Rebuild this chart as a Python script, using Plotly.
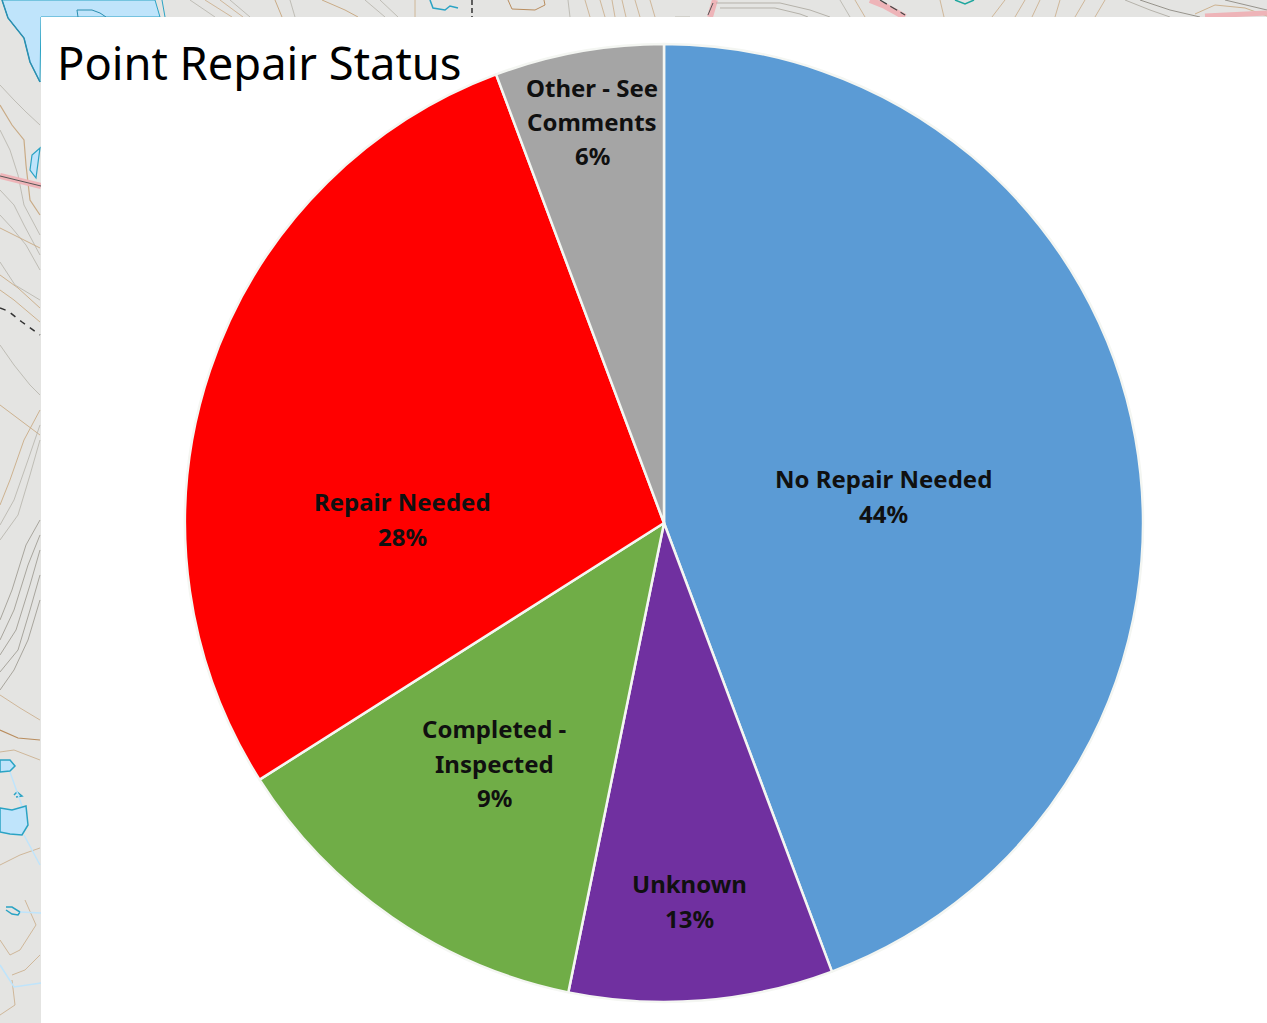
import plotly.graph_objects as go

W, H = 1267, 1023

# ---- data ----
categories = ["No Repair Needed", "Unknown", "Completed - Inspected", "Repair Needed", "Other - See Comments"]
slice_values = [44.3, 8.9, 12.8, 28.3, 5.7]
label_lines = [["No Repair Needed"], ["Unknown"], ["Completed -", "Inspected"], ["Repair Needed"], ["Other - See", "Comments"]]
percent_labels = ["44%", "13%", "9%", "28%", "6%"]
slice_colors = ["#5B9BD5", "#7030A0", "#70AD47", "#FF0000", "#A5A5A5"]
title_text = "Point Repair Status"

# ---- layout constants (pixels in the page) ----
CX, CY, R = 664, 523, 479
label_centres = [(884, 496), (689, 901), (494, 763), (402, 519), (592, 121.5)]
LINE_STEP = 34.5


def px(x):
    return x / W


def py(y):
    return 1 - y / H


def path(points, close=False):
    d = "M " + " L ".join(f"{px(x):.5f},{py(y):.5f}" for x, y in points)
    return d + (" Z" if close else "")


def line(points, color, width=1, dash="solid", fill=None):
    s = dict(type="path", xref="paper", yref="paper", layer="below",
             path=path(points, close=fill is not None),
             line=dict(color=color, width=width, dash=dash))
    if fill:
        s["fillcolor"] = fill
    return s


BROWN = "#c9ab86"
GREY = "#b5b2aa"
TEAL = "#2aa3c4"
LAKE = "#bfe4fb"
ROAD = "#eeb4b8"

shapes = [
    # map base
    dict(type="rect", xref="paper", yref="paper", x0=0, x1=1, y0=0, y1=1, layer="below",
         fillcolor="#e4e4e2", line_width=0),
    # lake top-left
    line([(2, 0), (8, 18), (24, 38), (30, 62), (40, 82), (41, 17), (160, 17), (155, 0)], TEAL, 1, fill=LAKE),
    line([(2, 0), (8, 18), (24, 38), (30, 62), (40, 82)], "#2b8fb0", 1.5),
    line([(78, 17), (77, 10), (92, 10), (100, 13), (106, 17)], "#2b8fb0", 1),
    # left edge contours
    line([(0, 105), (12, 125), (24, 140), (26, 165), (30, 200), (40, 215)], BROWN, 1.2),
    line([(0, 85), (14, 100), (26, 112), (40, 125)], GREY, 0.8),
    line([(0, 130), (10, 150), (18, 175), (24, 205), (40, 235)], GREY, 0.8),
    line([(0, 190), (14, 205), (24, 225), (40, 255)], GREY, 0.8),
    line([(0, 215), (12, 228), (26, 245), (40, 270)], GREY, 0.8),
    line([(0, 228), (20, 238), (40, 248)], BROWN, 0.9),
    line([(0, 262), (15, 285), (40, 300)], GREY, 0.8),
    line([(0, 275), (18, 288), (40, 308)], BROWN, 0.9),
    line([(0, 290), (14, 300), (40, 322)], BROWN, 0.9),
    line([(0, 345), (14, 365), (30, 385), (40, 395)], GREY, 0.8),
    line([(0, 405), (20, 420), (40, 435)], BROWN, 0.9),
    line([(40, 410), (24, 440), (10, 480), (0, 505)], BROWN, 0.9),
    line([(40, 425), (28, 460), (14, 500), (0, 525)], GREY, 0.8),
    line([(40, 440), (30, 475), (18, 515), (0, 540)], GREY, 0.8),
    line([(40, 520), (26, 545), (12, 590), (0, 620)], "#a8a59d", 1),
    line([(40, 535), (28, 565), (14, 610), (0, 640)], "#a8a59d", 1),
    line([(40, 550), (30, 585), (16, 630), (0, 655)], "#a8a59d", 1),
    line([(40, 575), (30, 610), (18, 650), (0, 672)], "#a8a59d", 1),
    line([(40, 600), (28, 640), (14, 670), (0, 690)], "#a8a59d", 1),
    line([(0, 695), (20, 708), (40, 720)], BROWN, 0.8),
    line([(0, 730), (18, 738), (40, 740)], "#b98d5e", 1.2),
    line([(0, 752), (14, 750), (40, 760)], BROWN, 0.8),
    line([(0, 865), (20, 855), (40, 848)], BROWN, 0.8),
    line([(25, 900), (36, 925), (20, 950), (10, 955), (0, 940)], BROWN, 0.8),
    line([(40, 955), (25, 970), (12, 975)], BROWN, 0.8),
    line([(12, 980), (15, 1005), (0, 1015)], BROWN, 0.8),
    # water
    line([(0, 760), (10, 760), (15, 766), (10, 771), (0, 772)], TEAL, 1.5, fill=LAKE),
    line([(0, 808), (12, 810), (26, 806), (28, 825), (22, 835), (10, 834), (0, 832)], TEAL, 1.5, fill=LAKE),
    line([(14, 795), (17, 792), (22, 796), (16, 797)], TEAL, 1.5),
    line([(6, 907), (12, 907), (20, 912), (18, 915), (12, 914), (6, 910)], TEAL, 1.5),
    line([(10, 772), (22, 806)], LAKE, 1.5),
    line([(24, 835), (40, 865)], LAKE, 1.5),
    line([(20, 912), (41, 913)], LAKE, 1.5),
    line([(0, 965), (14, 987), (41, 983)], LAKE, 1.5),
    line([(40, 148), (32, 155), (30, 170), (36, 178)], TEAL, 1.2, fill=LAKE),
    # roads and trail
    line([(0, 176), (41, 186)], ROAD, 6),
    line([(0, 176), (41, 186)], "#555555", 1),
    line([(0, 308), (8, 311), (22, 322), (40, 335)], "#333333", 1.5, dash="6px,6px"),
    # top strip contours
    line([(162, 0), (165, 17)], "#2aa3c4", 1),
    line([(230, 0), (250, 17)], GREY, 0.8), line([(190, 0), (215, 17)], GREY, 0.8),
    line([(205, 0), (232, 17)], BROWN, 0.8), line([(220, 0), (243, 17)], BROWN, 0.8),
    line([(275, 0), (282, 17)], BROWN, 1), line([(290, 0), (295, 17)], GREY, 0.8),
    line([(322, 0), (345, 10), (358, 17)], BROWN, 1), line([(365, 0), (385, 17)], GREY, 0.8),
    line([(380, 0), (398, 17)], GREY, 0.8), line([(415, 0), (415, 17)], BROWN, 0.8),
    line([(430, 0), (433, 8), (445, 10), (450, 6), (458, 8)], TEAL, 1.5),
    line([(472, 0), (472, 17)], "#333333", 1.5, dash="5px,3px"),
    line([(508, 0), (512, 9), (535, 10), (545, 5), (544, 0)], "#b98d5e", 1),
    line([(568, 0), (570, 17)], GREY, 0.8), line([(585, 0), (590, 17)], BROWN, 0.8),
    line([(600, 0), (605, 17)], BROWN, 0.8), line([(612, 0), (615, 17)], BROWN, 0.8),
    line([(622, 0), (626, 17)], BROWN, 0.8), line([(635, 0), (640, 17)], BROWN, 0.8),
    line([(650, 0), (655, 17)], BROWN, 0.8), line([(675, 17), (690, 17)], GREY, 0.8),
    line([(710, 17), (715, 0)], ROAD, 6), line([(708, 15), (713, 3)], "#555555", 1),
    line([(716, 3), (780, 3), (810, 10), (830, 17)], GREY, 1),
    line([(720, 8), (775, 8), (800, 14), (808, 17)], GREY, 1),
    line([(870, 0), (885, 6), (905, 17)], ROAD, 6), line([(880, 0), (905, 15)], "#444444", 1.2, dash="8px,4px"),
    line([(840, 0), (850, 17)], GREY, 0.8), line([(855, 0), (865, 17)], BROWN, 0.8),
    line([(940, 0), (944, 17)], BROWN, 0.8),
    line([(955, 0), (965, 4), (974, 0)], "#1fa79e", 1.5),
    line([(1005, 0), (992, 17)], BROWN, 0.8), line([(1025, 0), (1015, 17)], BROWN, 0.8),
    line([(1040, 0), (1032, 17)], BROWN, 0.8), line([(1060, 0), (1055, 17)], BROWN, 0.8),
    line([(1085, 0), (1075, 17)], BROWN, 0.8), line([(1105, 0), (1095, 17)], BROWN, 0.8),
    line([(1125, 0), (1150, 10), (1170, 17)], GREY, 1), line([(1140, 0), (1170, 10), (1200, 17)], "#8d8a82", 0.9),
    line([(1195, 14), (1215, 5), (1245, 8), (1267, 16)], BROWN, 0.9),
    line([(1225, 0), (1267, 10)], "#8d8a82", 0.9),
    line([(1205, 16), (1267, 13)], ROAD, 5),
    # white panel
    dict(type="rect", xref="paper", yref="paper", x0=px(41), x1=1, y0=0, y1=py(17), layer="below",
         fillcolor="#ffffff", line_width=0),
]

annotations = [
    dict(text=title_text, xref="paper", yref="paper", x=px(55), y=py(63), xanchor="left", yanchor="middle",
         showarrow=False, font=dict(family="Noto Sans", size=45.3, color="#000000")),
]
for lines, pct, (x, y) in zip(label_lines, percent_labels, label_centres):
    rows = lines + [pct]
    for i, row in enumerate(rows):
        offset = (i - (len(rows) - 1) / 2) * LINE_STEP
        annotations.append(dict(
            text=row, xref="paper", yref="paper", x=px(x), y=py(y + offset),
            xanchor="center", yanchor="middle", align="center", showarrow=False,
            font=dict(family="Noto Sans", size=24, color="#101010", weight="bold"),
        ))

fig = go.Figure(go.Pie(
    labels=categories,
    values=slice_values,
    sort=False,
    direction="clockwise",
    rotation=0,
    textinfo="none",
    hoverinfo="label+percent",
    marker=dict(colors=slice_colors, line=dict(color="#f4f6f2", width=2.5)),
    domain=dict(x=[px(CX - R), px(CX + R)], y=[py(CY + R), py(CY - R)]),
))
fig.update_layout(
    width=W, height=H,
    margin=dict(l=0, r=0, t=0, b=0),
    showlegend=False,
    paper_bgcolor="#ffffff",
    shapes=shapes,
    annotations=annotations,
)
fig.write_html("out.html", config={"displayModeBar": False},
               post_script="document.body.style.margin='0';document.body.style.overflow='hidden';")
